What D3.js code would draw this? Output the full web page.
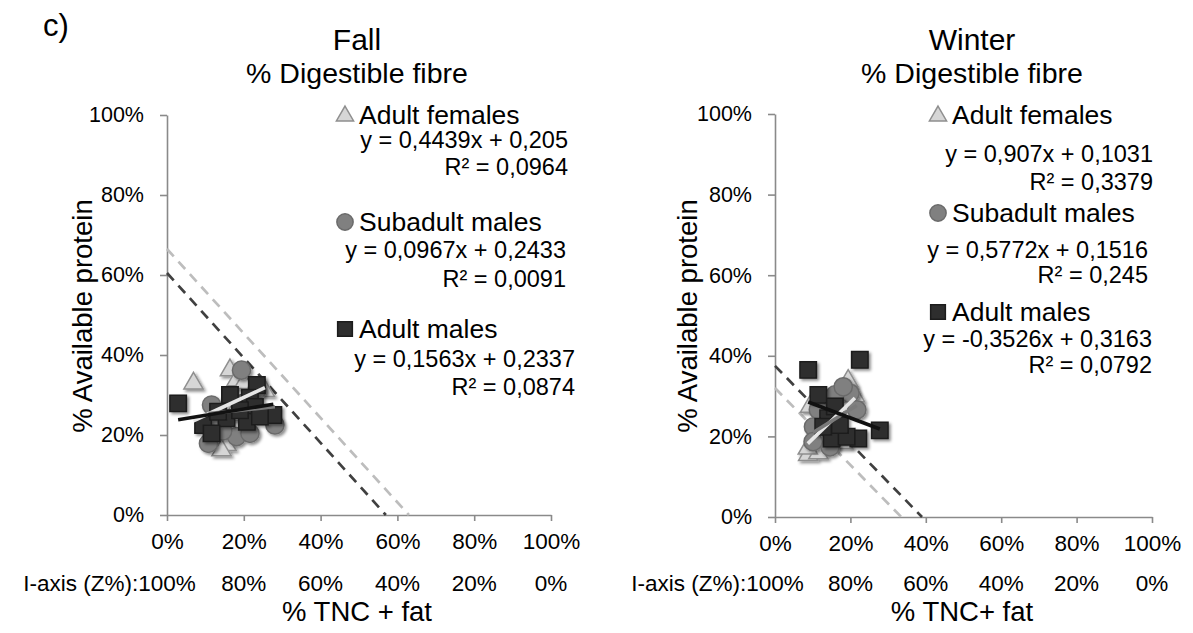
<!DOCTYPE html>
<html>
<head>
<meta charset="utf-8">
<script src="https://cdn.jsdelivr.net/npm/d3@7"></script>
<style>
  html, body { margin: 0; padding: 0; background: #fff; }
  svg { display: block; font-family: "Liberation Sans", Arial, sans-serif; }
</style>
</head>
<body>
<svg id="chart" width="1193" height="633"></svg>
<script>
// Axis ticks and their labels
const xTicks = [0, 0.2, 0.4, 0.6, 0.8, 1];
const xTickLabels = ["0%", "20%", "40%", "60%", "80%", "100%"];
const zTickLabels = ["100%", "80%", "60%", "40%", "20%", "0%"];
const yTicks = [0, 0.2, 0.4, 0.6, 0.8, 1];
const yTickLabels = ["0%", "20%", "40%", "60%", "80%", "100%"];

const seriesNames = ["Adult females", "Subadult males", "Adult males"];

// Fall: [% TNC + fat, % available protein]
const fallFemales = [[0.069, 0.329], [0.164, 0.362], [0.155, 0.175], [0.142, 0.162], [0.181, 0.337],
                     [0.255, 0.31], [0.20, 0.33], [0.17, 0.25]];
const fallSubadults = [[0.194, 0.362], [0.116, 0.275], [0.108, 0.179], [0.181, 0.196], [0.216, 0.204],
                       [0.281, 0.225], [0.234, 0.312], [0.145, 0.21], [0.20, 0.28], [0.13, 0.24]];
const fallMales = [[0.029, 0.279], [0.164, 0.30], [0.234, 0.325], [0.216, 0.293], [0.229, 0.27],
                   [0.155, 0.242], [0.208, 0.233], [0.094, 0.225], [0.116, 0.204], [0.277, 0.25],
                   [0.19, 0.262], [0.133, 0.258], [0.242, 0.246]];

// Winter
const winterFemales = [[0.194, 0.338], [0.088, 0.154], [0.115, 0.158], [0.087, 0.17], [0.093, 0.274],
                       [0.181, 0.183], [0.212, 0.30], [0.15, 0.22], [0.12, 0.20]];
const winterSubadults = [[0.199, 0.307], [0.217, 0.266], [0.159, 0.303], [0.102, 0.224], [0.115, 0.266],
                         [0.181, 0.323], [0.146, 0.174], [0.101, 0.187]];
const winterMales = [[0.088, 0.365], [0.225, 0.39], [0.115, 0.303], [0.278, 0.215], [0.15, 0.195],
                     [0.221, 0.195], [0.19, 0.199], [0.141, 0.245], [0.159, 0.274], [0.128, 0.224],
                     [0.172, 0.228]];

// Linear trend coefficients [slope, intercept] and fit labels
const fallSlopes = [0.4439, 0.0967, 0.1563];
const fallIntercepts = [0.205, 0.2433, 0.2337];
const fallEquations = ["y = 0,4439x + 0,205", "y = 0,0967x + 0,2433", "y = 0,1563x + 0,2337"];
const fallR2 = ["R² = 0,0964", "R² = 0,0091", "R² = 0,0874"];

const winterSlopes = [0.907, 0.5772, -0.3526];
const winterIntercepts = [0.1031, 0.1516, 0.3163];
const winterEquations = ["y = 0,907x + 0,1031", "y = 0,5772x + 0,1516", "y = -0,3526x + 0,3163"];
const winterR2 = ["R² = 0,3379", "R² = 0,245", "R² = 0,0792"];

// Reference diagonals: [x0, y0, x1, y1]
const fallGuideDark = [0, 0.605, 0.57, 0];
const fallGuideLight = [0, 0.665, 0.63, 0];
const winterGuideDark = [0, 0.375, 0.39, 0];
const winterGuideLight = [0, 0.32, 0.335, 0];

const svg = d3.select("#chart");
const FONT = "'Liberation Sans', Arial, sans-serif";

// Soft marker shadow
const defs = svg.append("defs");
const shadow = defs.append("filter").attr("id", "shade")
  .attr("x", "-50%").attr("y", "-50%").attr("width", "200%").attr("height", "200%");
shadow.append("feDropShadow").attr("dx", 2).attr("dy", 2)
  .attr("stdDeviation", 1.6).attr("flood-color", "#000").attr("flood-opacity", 0.45);

const markerStyles = [
  { type: d3.symbolTriangle, size: 160, fill: "#d6d6d6", stroke: "#8f8f8f" },
  { type: d3.symbolCircle, size: 260, fill: "#808080", stroke: "#6b6b6b" },
  { type: d3.symbolSquare, size: 270, fill: "#2e2e2e", stroke: "#1c1c1c" }
];
const trendColors = ["#e6e6e6", "#7a7a7a", "#111111"];

svg.append("text").attr("x", 43).attr("y", 36)
  .attr("font-size", 31).attr("font-family", FONT).text("c)");

function drawPanel(cfg) {
  const x = d3.scaleLinear().domain([0, 1]).range(cfg.xRange);
  const y = d3.scaleLinear().domain([0, 1]).range(cfg.yRange);
  const g = svg.append("g");

  // titles
  g.append("text").attr("x", cfg.titleX).attr("y", 50).attr("text-anchor", "middle")
    .attr("font-size", 30).text(cfg.season);
  g.append("text").attr("x", cfg.titleX).attr("y", 83).attr("text-anchor", "middle")
    .attr("font-size", 28.5).text("% Digestible fibre");

  // axes
  const yAxis = d3.axisLeft(y).tickValues(yTicks)
    .tickFormat((d, i) => yTickLabels[i]).tickSize(7).tickSizeOuter(0).tickPadding(16);
  const gy = g.append("g").attr("transform", `translate(${cfg.xRange[0]},0)`).call(yAxis);
  const xAxis = d3.axisBottom(x).tickValues(xTicks)
    .tickFormat((d, i) => xTickLabels[i]).tickSize(6).tickSizeOuter(0).tickPadding(12);
  const gx = g.append("g").attr("transform", `translate(0,${cfg.yRange[0]})`).call(xAxis);
  [gx, gy].forEach(a => {
    a.select(".domain").attr("stroke", "#8a8a8a").attr("stroke-width", 1.6);
    a.selectAll(".tick line").attr("stroke", "#8a8a8a").attr("stroke-width", 1.6);
    a.selectAll(".tick text").attr("font-family", FONT).attr("fill", "#000");
  });
  gx.selectAll(".tick text").attr("font-size", 22.5);
  gy.selectAll(".tick text").attr("font-size", 21.5);

  // second x scale labels
  const zRow = g.append("g");
  zRow.selectAll("text").data(xTicks).join("text")
    .attr("x", d => x(d)).attr("y", 591).attr("text-anchor", "middle")
    .attr("font-size", 22.5).text((d, i) => zTickLabels[i]);
  const first = zRow.select("text").node();
  const halfW = first.getComputedTextLength() / 2;
  zRow.append("text").attr("x", x(0) - halfW).attr("y", 591).attr("text-anchor", "end")
    .attr("font-size", 22.5).text("I-axis (Z%):");

  // axis titles
  g.append("text").attr("x", cfg.xTitleX).attr("y", 621).attr("text-anchor", "middle")
    .attr("font-size", 27.5).text(cfg.xTitle);
  g.append("text").attr("transform", `translate(${cfg.yTitleX},${cfg.yTitleY}) rotate(-90)`)
    .attr("text-anchor", "middle").attr("font-size", 27.5).text("% Available protein");

  // dashed reference diagonals
  [[cfg.guideLight, "#bdbdbd"], [cfg.guideDark, "#404040"]].forEach(([p, c]) => {
    g.append("line").attr("x1", x(p[0])).attr("y1", y(p[1])).attr("x2", x(p[2])).attr("y2", y(p[3]))
      .attr("stroke", c).attr("stroke-width", 2.7).attr("stroke-dasharray", "10,7");
  });

  // markers
  cfg.series.forEach((pts, i) => {
    const st = markerStyles[i];
    const sym = d3.symbol().type(st.type).size(st.size);
    g.append("g").attr("filter", "url(#shade)")
      .selectAll("path").data(pts).join("path")
      .attr("d", sym)
      .attr("transform", d => `translate(${x(d[0])},${y(d[1])})`)
      .attr("fill", st.fill).attr("stroke", st.stroke).attr("stroke-width", 1.5);
  });

  // trend lines across each series' x extent
  cfg.series.forEach((pts, i) => {
    const [x0, x1] = d3.extent(pts, d => d[0]);
    const f = v => cfg.slopes[i] * v + cfg.intercepts[i];
    g.append("line").attr("x1", x(x0)).attr("y1", y(f(x0))).attr("x2", x(x1)).attr("y2", y(f(x1)))
      .attr("stroke", trendColors[i]).attr("stroke-width", 3.6);
  });

  // legend with fit labels
  cfg.legend.forEach((L, i) => {
    const st = markerStyles[i];
    const sym = d3.symbol().type(st.type).size(st.size * 0.8);
    g.append("path").attr("d", sym).attr("transform", `translate(${L.mx},${L.my})`)
      .attr("fill", st.fill).attr("stroke", st.stroke).attr("stroke-width", 1.5);
    g.append("text").attr("x", L.mx + 14).attr("y", L.nameY).attr("font-size", 26.5).text(seriesNames[i]);
    g.append("text").attr("x", L.right).attr("y", L.eqY).attr("text-anchor", "end")
      .attr("font-size", 23.5).text(cfg.equations[i]);
    g.append("text").attr("x", L.right).attr("y", L.r2Y).attr("text-anchor", "end")
      .attr("font-size", 23.5).text(cfg.r2[i]);
  });

  g.selectAll("text").attr("font-family", FONT);
}

drawPanel({
  season: "Fall", titleX: 357, xTitle: "% TNC + fat", xTitleX: 357,
  xRange: [167, 551], yRange: [515, 115], yTitleX: 92, yTitleY: 316,
  series: [fallFemales, fallSubadults, fallMales],
  slopes: fallSlopes, intercepts: fallIntercepts, equations: fallEquations, r2: fallR2,
  guideDark: fallGuideDark, guideLight: fallGuideLight,
  legend: [
    { mx: 345, my: 116, nameY: 124, right: 568, eqY: 148, r2Y: 175 },
    { mx: 345, my: 222, nameY: 231, right: 566, eqY: 258, r2Y: 287 },
    { mx: 345, my: 329, nameY: 338, right: 575, eqY: 367, r2Y: 395 }
  ]
});

drawPanel({
  season: "Winter", titleX: 972, xTitle: "% TNC+ fat", xTitleX: 962,
  xRange: [775, 1152], yRange: [517, 114], yTitleX: 697, yTitleY: 316,
  series: [winterFemales, winterSubadults, winterMales],
  slopes: winterSlopes, intercepts: winterIntercepts, equations: winterEquations, r2: winterR2,
  guideDark: winterGuideDark, guideLight: winterGuideLight,
  legend: [
    { mx: 938, my: 116, nameY: 124, right: 1153, eqY: 162, r2Y: 190 },
    { mx: 938, my: 213, nameY: 222, right: 1148, eqY: 258, r2Y: 283 },
    { mx: 938, my: 312, nameY: 321, right: 1152, eqY: 347, r2Y: 373 }
  ]
});
</script>
</body>
</html>
